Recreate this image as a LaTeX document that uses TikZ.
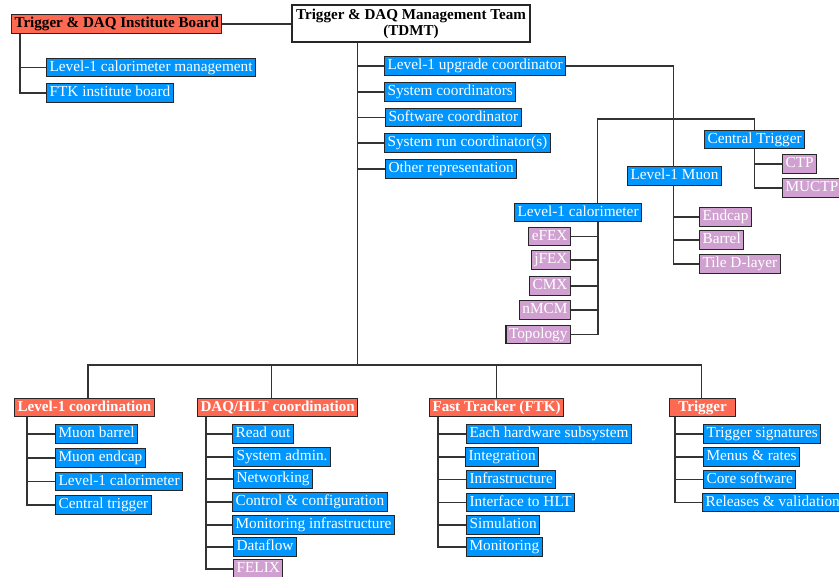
\documentclass[tikz,border=0pt]{standalone}
\usepackage{fontspec}
\setmainfont{Liberation Serif}
\definecolor{bbox}{RGB}{0,150,255}
\definecolor{rbox}{RGB}{255,105,82}
\definecolor{pbox}{RGB}{208,160,208}
\tikzset{
  box/.style={draw=black!85, line width=1.1pt, inner xsep=3pt, inner ysep=0pt,
    text height=11.2pt, text depth=3.8pt, minimum height=18.5pt,
    font=\fontsize{15.3}{17}\selectfont},
  bluebox/.style={box, fill=bbox, text=white},
  purplebox/.style={box, fill=pbox, text=white},
  redbox/.style={box, fill=rbox, text=white, font=\fontsize{15.1}{17}\selectfont\bfseries},
  conn/.style={draw=black!80, line width=1.2pt},
}
\begin{document}
\begin{tikzpicture}[x=1pt,y=-1pt]
\clip (0,0) rectangle (839,577);
\fill[white] (0,0) rectangle (839,577);

% top
\node[redbox, text=black, anchor=west] (ib) at (11,24) {Trigger \& DAQ Institute Board};
\node[box, fill=white, align=center, minimum width=238pt, minimum height=37pt, text height=, text depth=,
  font=\fontsize{15.1}{16}\selectfont\bfseries] (tdmt) at (411,23.5) {Trigger \& DAQ Management Team\\(TDMT)};
\node[bluebox, anchor=west] (l1cm) at (46,67.5) {Level-1 calorimeter management};
\node[bluebox, anchor=west] (ftkib) at (46,93) {FTK institute board};

\node[bluebox, anchor=west] (l1u) at (384,66) {Level-1 upgrade coordinator};
\node[bluebox, anchor=west] (sysc) at (384,92) {System coordinators};
\node[bluebox, anchor=west] (swc) at (385,117.5) {Software coordinator};
\node[bluebox, anchor=west] (src) at (384,143) {System run coordinator(s)};
\node[bluebox, anchor=west] (oth) at (385,169) {Other representation};

\node[bluebox, anchor=west] (ct) at (704,139.5) {Central Trigger};
\node[purplebox, anchor=west] (ctp) at (782,164) {CTP};
\node[purplebox, anchor=west] (muctp) at (782,188) {MUCTP};
\node[bluebox, anchor=west] (l1m) at (627,176) {Level-1 Muon};
\node[purplebox, anchor=west] (endcap) at (699,217) {Endcap};
\node[purplebox, anchor=west] (barrel) at (699,240) {Barrel};
\node[purplebox, anchor=west] (tiled) at (699,264) {Tile D-layer};
\node[bluebox, anchor=west] (l1cal) at (514,212.5) {Level-1 calorimeter};
\node[purplebox, anchor=east] (efex) at (571,236.5) {eFEX};
\node[purplebox, anchor=east] (jfex) at (571,260) {jFEX};
\node[purplebox, anchor=east] (cmx) at (571,286) {CMX};
\node[purplebox, anchor=east] (nmcm) at (571,310) {nMCM};
\node[purplebox, anchor=east] (topo) at (571,334.5) {Topology};

% bottom headers
\node[redbox, anchor=west] (l1c) at (14,407.5) {Level-1 coordination};
\node[redbox, anchor=west] (daq) at (197,407.5) {DAQ/HLT coordination};
\node[redbox, anchor=west] (ftk) at (429,407.5) {Fast Tracker (FTK)};
\node[redbox, anchor=west, minimum width=66pt] (trig) at (669,407.5) {Trigger};

\node[bluebox, anchor=west] (mb) at (55,434) {Muon barrel};
\node[bluebox, anchor=west] (me) at (55,458) {Muon endcap};
\node[bluebox, anchor=west] (lc) at (55,481.5) {Level-1 calorimeter};
\node[bluebox, anchor=west] (ctr) at (55,505) {Central trigger};

\node[bluebox, anchor=west] (ro) at (232,434) {Read out};
\node[bluebox, anchor=west] (sa) at (233,457) {System admin.};
\node[bluebox, anchor=west] (nw) at (233,479) {Networking};
\node[bluebox, anchor=west] (cc) at (232,502) {Control \& configuration};
\node[bluebox, anchor=west] (mi) at (232,525) {Monitoring infrastructure};
\node[bluebox, anchor=west] (df) at (233,547) {Dataflow};
\node[purplebox, anchor=west] (felix) at (233,569) {FELIX};

\node[bluebox, anchor=west] (ehs) at (466,434) {Each hardware subsystem};
\node[bluebox, anchor=west] (integ) at (465,457) {Integration};
\node[bluebox, anchor=west] (infra) at (466,479.5) {Infrastructure};
\node[bluebox, anchor=west] (ihlt) at (466,502.5) {Interface to HLT};
\node[bluebox, anchor=west] (sim) at (466,525) {Simulation};
\node[bluebox, anchor=west] (mon) at (466,547) {Monitoring};

\node[bluebox, anchor=west] (tsig) at (703,434) {Trigger signatures};
\node[bluebox, anchor=west] (menu) at (703,457) {Menus \& rates};
\node[bluebox, anchor=west] (core) at (703,479.5) {Core software};
\node[bluebox, anchor=west] (rel) at (702,502.5) {Releases \& validation};

% connectors
\coordinate (bus) at (357.5,365);
\coordinate (l1hub) at (673,119);
\draw[conn] (ib.east) -- (ib.east -| tdmt.west);
\foreach \c in {l1cm,ftkib} \draw[conn] ([xshift=9]ib.south west) |- (\c.west);
\draw[conn] ([xshift=-53.5]tdmt.south) -- (bus);
\foreach \c in {l1u,sysc,swc,src,oth} \draw[conn] ([xshift=-53.5]tdmt.south) |- (\c.west);
\draw[conn] (l1u.east) -| ([xshift=-1]l1m.north);
\draw[conn] ([xshift=19.5]l1cal.north) |- (l1hub) -| (ct.north);
\foreach \c in {ctp,muctp} \draw[conn] (ct.south) |- (\c.west);
\foreach \c in {endcap,barrel,tiled} \draw[conn] ([xshift=-1]l1m.south) |- (\c.west);
\foreach \c in {efex,jfex,cmx,nmcm,topo} \draw[conn] ([xshift=20]l1cal.south) |- (\c.east);
\draw[conn] ([xshift=3.5]l1c.north) |- (bus);
\draw[conn] ([xshift=-6]daq.north) |- (bus);
\draw[conn] (ftk.north) |- (bus);
\draw[conn] ([xshift=-1]trig.north) |- (bus);
\foreach \c in {mb,me,lc,ctr} \draw[conn] ([xshift=13]l1c.south west) |- (\c.west);
\foreach \c in {ro,sa,nw,cc,mi,df,felix} \draw[conn] ([xshift=9]daq.south west) |- (\c.west);
\foreach \c in {ehs,integ,infra,ihlt,sim,mon} \draw[conn] ([xshift=9]ftk.south west) |- (\c.west);
\foreach \c in {tsig,menu,core,rel} \draw[conn] ([xshift=6]trig.south west) |- (\c.west);
\end{tikzpicture}
\end{document}
